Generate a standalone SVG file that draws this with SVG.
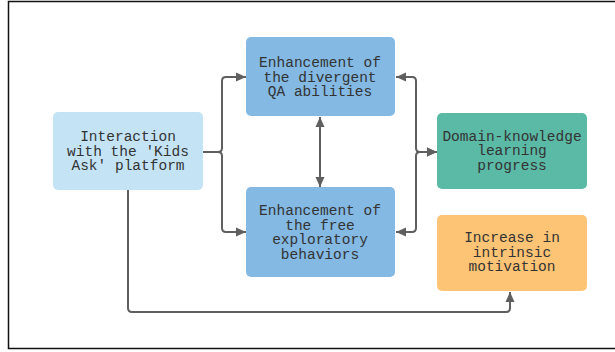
<svg xmlns="http://www.w3.org/2000/svg" width="615" height="352" viewBox="0 0 615 352">
<style>
.t{font-family:"Liberation Mono","DejaVu Sans Mono",monospace;font-size:14.5px;fill:#333333;text-anchor:middle}
.c{fill:none;stroke:#5f5f5f;stroke-width:2;stroke-linejoin:round}
</style>
<defs>
<marker id="a" viewBox="0 0 10 10" refX="10" refY="5" markerWidth="10" markerHeight="10" markerUnits="userSpaceOnUse" orient="auto-start-reverse">
<path d="M0,0.5 L10,5 L0,9.5 Z" fill="#5f5f5f"/>
</marker>
</defs>
<rect x="0" y="0" width="615" height="352" fill="#ffffff"/>
<path d="M615,1.5 H8.5 V348.5 H615" fill="none" stroke="#111111" stroke-width="1.5"/>
<g id="connectors">
<path class="c" d="M203,152 H218 Q222,152 222,148 V81 Q222,77 226,77 H246" marker-end="url(#a)"/>
<path class="c" d="M203,152 H218 Q222,152 222,156 V228 Q222,232 226,232 H246" marker-end="url(#a)"/>
<path class="c" d="M320,117 V187" marker-start="url(#a)" marker-end="url(#a)"/>
<path class="c" d="M437,152 H420 Q416,152 416,148 V81 Q416,77 412,77 H396" marker-start="url(#a)" marker-end="url(#a)"/>
<path class="c" d="M437,152 H420 Q416,152 416,156 V228 Q416,232 412,232 H396" marker-start="url(#a)" marker-end="url(#a)"/>
<path class="c" d="M128,190 V308 Q128,312 132,312 H506 Q510,312 510,308 V292" marker-end="url(#a)"/>
</g>
<g id="interaction">
<rect x="53" y="112" width="150" height="78" rx="5" fill="#c4e4f6"/>
<text class="t" x="128" y="141">Interaction<tspan x="128" dy="14.6">with the 'Kids</tspan><tspan x="128" dy="14.6">Ask' platform</tspan></text>
</g>
<g id="qa">
<rect x="246" y="37" width="149" height="79" rx="5" fill="#83b9e3"/>
<text class="t" x="320" y="67">Enhancement of<tspan x="320" dy="14.6">the divergent</tspan><tspan x="320" dy="14.6">QA abilities</tspan></text>
</g>
<g id="explore">
<rect x="246" y="187" width="149" height="90" rx="5" fill="#83b9e3"/>
<text class="t" x="320" y="215">Enhancement of<tspan x="320" dy="14.6">the free</tspan><tspan x="320" dy="14.6">exploratory</tspan><tspan x="320" dy="14.6">behaviors</tspan></text>
</g>
<g id="domain">
<rect x="437" y="113" width="150" height="76" rx="5" fill="#5bbaa6"/>
<text class="t" x="512" y="140.5">Domain-knowledge<tspan x="512" dy="14.6">learning</tspan><tspan x="512" dy="14.6">progress</tspan></text>
</g>
<g id="motivation">
<rect x="437" y="215" width="150" height="76" rx="5" fill="#fec475"/>
<text class="t" x="512" y="242">Increase in<tspan x="512" dy="14.6">intrinsic</tspan><tspan x="512" dy="14.6">motivation</tspan></text>
</g>
</svg>
